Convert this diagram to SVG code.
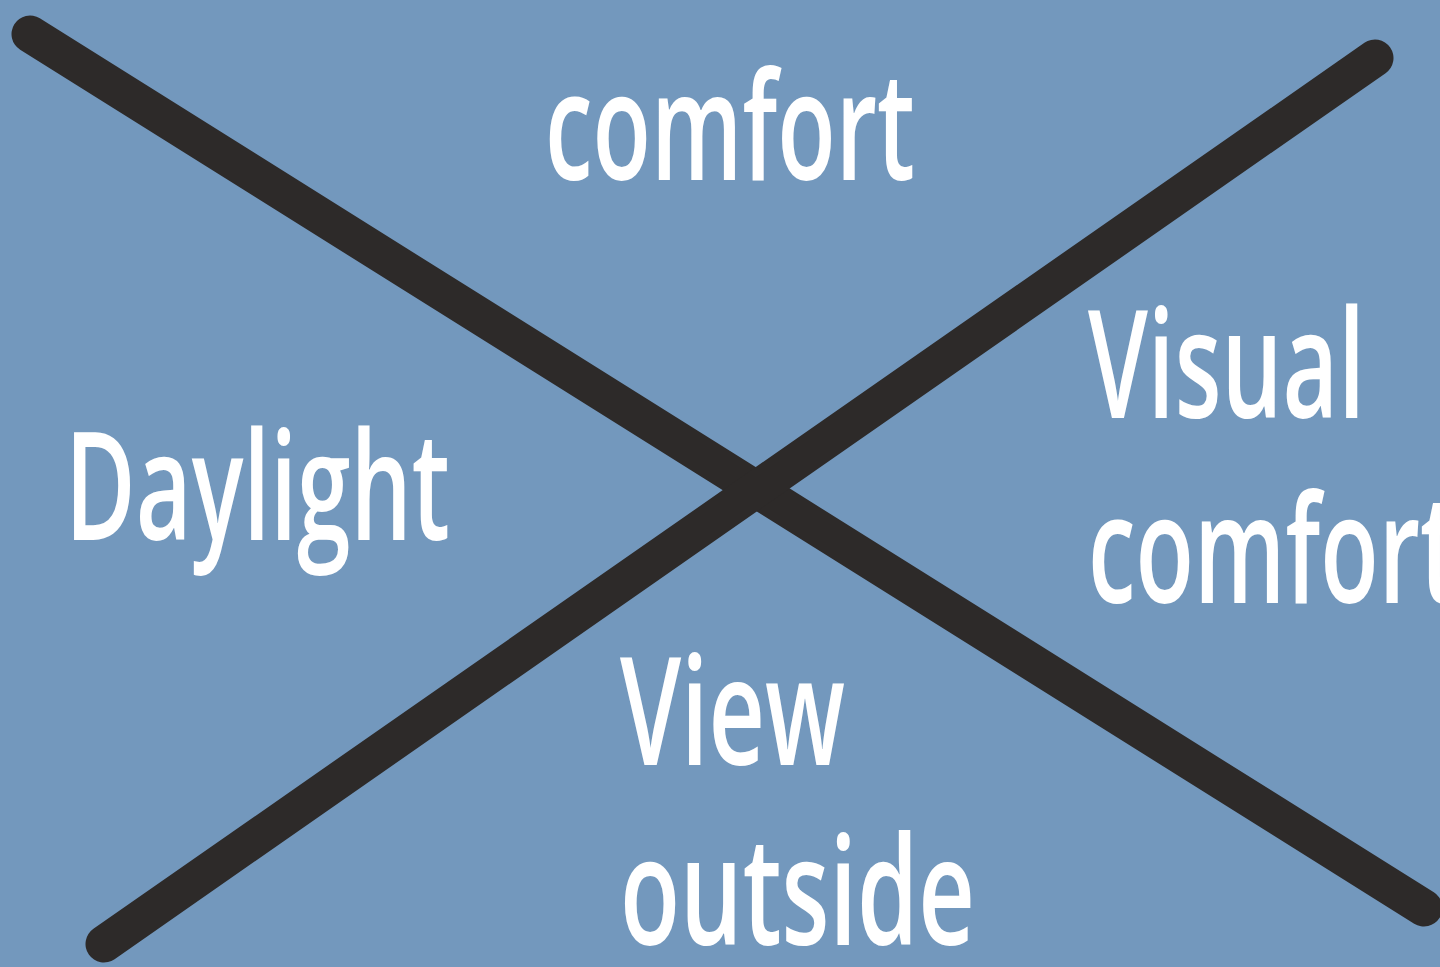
<svg xmlns="http://www.w3.org/2000/svg" width="1440" height="967" viewBox="0 0 1440 967">
<style>
.bg{fill:#7398bd}
.ln{stroke:#2d2a29;stroke-width:37;stroke-linecap:round;fill:none}
.t{font-family:"Open Sans","Liberation Sans",sans-serif;font-size:150px;fill:#ffffff;font-weight:600}
</style>
<rect class="bg" x="0" y="0" width="1440" height="967"/>
<g id="connectors">
<line class="ln" x1="30" y1="34" x2="1424" y2="908"/>
<line class="ln" x1="1375" y1="58" x2="104" y2="944"/>
</g>
<g id="node-comfort-top"><text class="t" x="545" y="180" textLength="370" lengthAdjust="spacingAndGlyphs">comfort</text></g>
<g id="node-daylight"><text class="t" x="65" y="540" textLength="385" lengthAdjust="spacingAndGlyphs">Daylight</text></g>
<g id="node-visual-comfort">
<text class="t" x="1088" y="418" textLength="277" lengthAdjust="spacingAndGlyphs">Visual</text>
<text class="t" x="1088" y="603" textLength="370" lengthAdjust="spacingAndGlyphs">comfort</text>
</g>
<g id="node-view-outside">
<text class="t" x="620" y="765" textLength="225" lengthAdjust="spacingAndGlyphs">View</text>
<text class="t" x="620" y="945" textLength="355" lengthAdjust="spacingAndGlyphs">outside</text>
</g>
</svg>
